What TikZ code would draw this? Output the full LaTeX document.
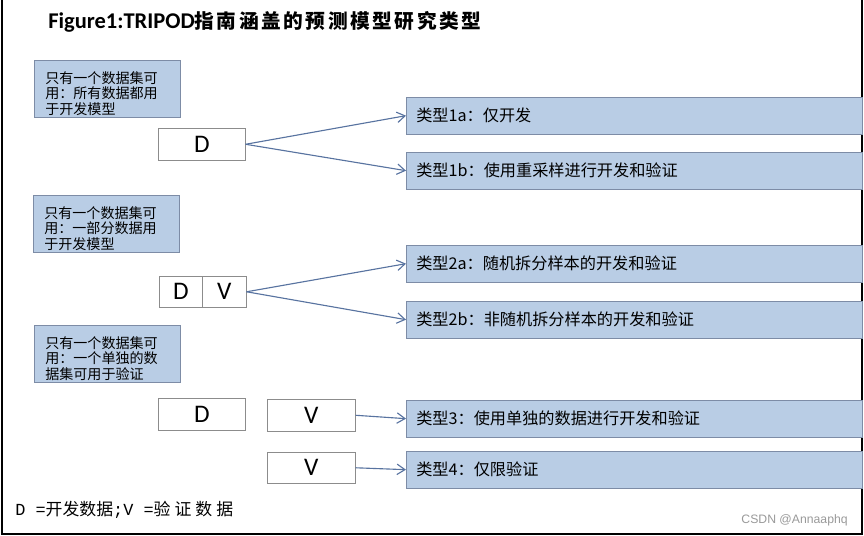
\documentclass[tikz,border=0pt]{standalone}
\usepackage{fontspec}
\setmainfont{Carlito}
\newfontfamily\cjk{Noto Sans CJK SC}
\newfontfamily\cjktitle[LetterSpace=13]{Noto Sans CJK SC}
\newfontfamily\cjkwide[LetterSpace=24]{Noto Sans CJK SC}
\newfontfamily\legendmono{Liberation Mono}
\newfontfamily\wmfont{Liberation Sans}
\usetikzlibrary{arrows.meta}

\definecolor{boxblue}{HTML}{B9CDE5}
\definecolor{boxline}{HTML}{7D8CA6}
\definecolor{arrowblue}{HTML}{5873A0}
\definecolor{dataline}{HTML}{8C8C8C}

\tikzset{
  infobox/.style={draw=boxline, fill=boxblue, anchor=north west,
    minimum width=3.65cm, minimum height=1.425cm, text width=3.1cm,
    text depth=0.57cm, inner xsep=0.275cm, align=left,
    font=\cjk\fontsize{10}{11}\selectfont},
  typebox/.style={draw=boxline, fill=boxblue, anchor=north west,
    minimum height=0.92cm, text width=10.9cm, inner xsep=0.25cm,
    align=left, font=\cjk\fontsize{11.5}{13}\selectfont},
  databox/.style={draw=dataline, anchor=north west, inner sep=0,
    minimum height=0.8cm, font=\fontsize{18}{20}\selectfont},
  arr/.style={draw=arrowblue, line width=0.8pt,
    -{Straight Barb[length=2mm,width=2.6mm]}}
}

\begin{document}
\begin{tikzpicture}[x=0.025cm, y=-0.025cm]
\useasboundingbox (0,0) rectangle (864,536);
\draw[line width=1.4pt] (2,0) -- (2,534) -- (862,534) -- (862,0);

\node[anchor=west, inner sep=0] (title) at (48,22)
  {\bfseries\fontsize{16}{18}\selectfont Figure1:TRIPOD{\cjktitle\fontsize{14}{16}\selectfont 指南涵盖的预测模型研究类型}};

% 左侧说明
\node[infobox] (info1) at (34,60) {只有一个数据集可\\用：所有数据都用\\于开发模型};
\node[infobox] (info2) at (33,195) {只有一个数据集可\\用：一部分数据用\\于开发模型};
\node[infobox] (info3) at (34,325) {只有一个数据集可\\用：一个单独的数\\据集可用于验证};

% 数据
\node[databox, minimum width=2.175cm] (d1) at (158,128) {D};
\node[databox, minimum width=1.075cm, minimum height=0.775cm] (d2) at (159,276) {D};
\node[databox, minimum width=1.1cm, minimum height=0.775cm] (v2) at (202,276) {V};
\node[databox, minimum width=2.175cm] (d3) at (158,398) {D};
\node[databox, minimum width=2.2cm] (v3) at (267,399) {V};
\node[databox, minimum width=2.2cm, minimum height=0.775cm] (v4) at (267,452) {V};

% 类型
\node[typebox] (t1a) at (406,97) {类型1a：仅开发};
\node[typebox] (t1b) at (406,152) {类型1b：使用重采样进行开发和验证};
\node[typebox] (t2a) at (406,245) {类型2a：随机拆分样本的开发和验证};
\node[typebox] (t2b) at (406,301) {类型2b：非随机拆分样本的开发和验证};
\node[typebox] (t3) at (406,400) {类型3：使用单独的数据进行开发和验证};
\node[typebox] (t4) at (406,451) {类型4：仅限验证};

\foreach \a/\b in {d1/t1a, d1/t1b, v2/t2a, v2/t2b, v3/t3, v4/t4}
  \draw[arr] (\a.east) -- (\b.west);

\node[anchor=west, inner sep=0] (legend) at (15,510)
  {\fontsize{12}{14}\selectfont{\legendmono D =}{\cjk 开发数据}{\legendmono ;V =}{\cjkwide 验证数据}};
\node[anchor=east, inner sep=0, text=black!40] (mark) at (848,520)
  {\wmfont\fontsize{8.7}{10}\selectfont CSDN @Annaaphq};
\end{tikzpicture}
\end{document}
